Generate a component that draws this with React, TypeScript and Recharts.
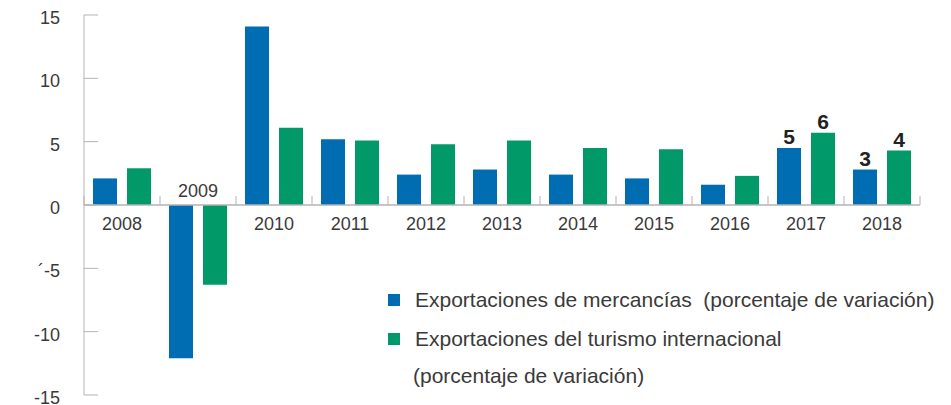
import { BarChart, Bar, XAxis, YAxis, Legend, ReferenceLine, LabelList } from 'recharts'

const years = ['2008', '2009', '2010', '2011', '2012', '2013', '2014', '2015', '2016', '2017', '2018']
const mercancias = [2.1, -12.1, 14.1, 5.2, 2.4, 2.8, 2.4, 2.1, 1.6, 4.5, 2.8]
const turismo = [2.9, -6.3, 6.1, 5.1, 4.8, 5.1, 4.5, 4.4, 2.3, 5.7, 4.3]
const mercLabels = ['', '', '', '', '', '', '', '', '', '5', '3']
const turLabels = ['', '', '', '', '', '', '', '', '', '6', '4']
const yTicks = [-15, -10, -5, 0, 5, 10, 15]
const yTickText: Record<number, string> = { '-15': '-15', '-10': '-10', '-5': '´-5', 0: '0', 5: '5', 10: '10', 15: '15' }
const legendLines = [
  { color: '#006db3', text: 'Exportaciones de mercancías  (porcentaje de variación)' },
  { color: '#009967', text: 'Exportaciones del turismo internacional' },
  { color: '', text: '(porcentaje de variación)' },
]

const BLUE = '#006db3'
const GREEN = '#009967'
const AXIS = '#b3b3b3'
const TEXT = '#3a3a3a'
const FONT = '"Liberation Sans", Arial, sans-serif'

const data = years.map((year, i) => ({
  year,
  merc: mercancias[i],
  tur: turismo[i],
  mercLabel: mercLabels[i],
  turLabel: turLabels[i],
}))

function YTick({ x, y, payload }: any) {
  return (
    <g>
      <line x1={x + 24} x2={x + 38} y1={y} y2={y} stroke={AXIS} strokeWidth={1} />
      <text x={x} y={y} dy={9} textAnchor="end" fill={TEXT} fontSize={18} fontFamily={FONT}>
        {yTickText[payload.value]}
      </text>
    </g>
  )
}

// year label + category separator ticks, placed from the blue bar geometry
function YearLabel(props: any) {
  const { x, y, width, height, index, value } = props
  const top = Math.min(y, y + height)
  const bottom = Math.max(y, y + height)
  const base = value >= 0 ? bottom : top
  const cx = x + width + 5
  const left = x - 9
  const right = x + width * 2 + 10 + 9
  return (
    <g>
      <line x1={left} x2={left} y1={base} y2={base - 9} stroke={AXIS} strokeWidth={1} />
      {index === years.length - 1 && <line x1={right} x2={right} y1={base} y2={base - 9} stroke={AXIS} strokeWidth={1} />}
      <text x={cx} y={value >= 0 ? base + 25 : base - 8} textAnchor="middle" fill={TEXT} fontSize={18} fontFamily={FONT}>
        {years[index]}
      </text>
    </g>
  )
}

function ValueLabel(props: any) {
  const { x, y, width, value } = props
  if (!value) return null
  return (
    <text x={x + width / 2} y={y - 4} textAnchor="middle" fill="#222" fontSize={21} fontWeight={600} fontFamily={FONT}>
      {value}
    </text>
  )
}

function LegendBox() {
  return (
    <div style={{ fontFamily: FONT, fontSize: 21, color: TEXT, lineHeight: '24px', whiteSpace: 'pre' }}>
      {legendLines.map((l, i) => (
        <div key={i} style={{ display: 'flex', alignItems: 'center', height: i === 0 ? 40 : 37, marginLeft: l.color ? 0 : 25 }}>
          {l.color && <span style={{ width: 12, height: 12, background: l.color, display: 'inline-block', marginRight: 15 }} />}
          <span>{l.text}</span>
        </div>
      ))}
    </div>
  )
}

export default function App() {
  return (
    <div style={{ position: 'absolute', left: 0, top: 0, background: '#fff' }}>
      <BarChart width={951} height={405} data={data} margin={{ top: 15, right: 31, bottom: 10, left: 0 }} barGap={10} barSize={24}>
        <XAxis dataKey="year" hide />
        <YAxis
          domain={[-15, 15]}
          ticks={yTicks}
          width={84}
          tickSize={0}
          tickMargin={24}
          interval={0}
          axisLine={{ stroke: AXIS }}
          tickLine={false}
          tick={<YTick />}
        />
        <Bar dataKey="merc" fill={BLUE} isAnimationActive={false}>
          <LabelList dataKey="merc" content={<YearLabel />} />
          <LabelList dataKey="mercLabel" content={<ValueLabel />} />
        </Bar>
        <Bar dataKey="tur" fill={GREEN} isAnimationActive={false}>
          <LabelList dataKey="turLabel" content={<ValueLabel />} />
        </Bar>
        <ReferenceLine y={0} stroke={AXIS} strokeWidth={1.5} ifOverflow="visible" />
        <Legend
          layout="horizontal"
          verticalAlign="middle"
          align="center"
          wrapperStyle={{ left: 388, top: 280, width: 563 }}
          content={<LegendBox />}
        />
      </BarChart>
    </div>
  )
}
